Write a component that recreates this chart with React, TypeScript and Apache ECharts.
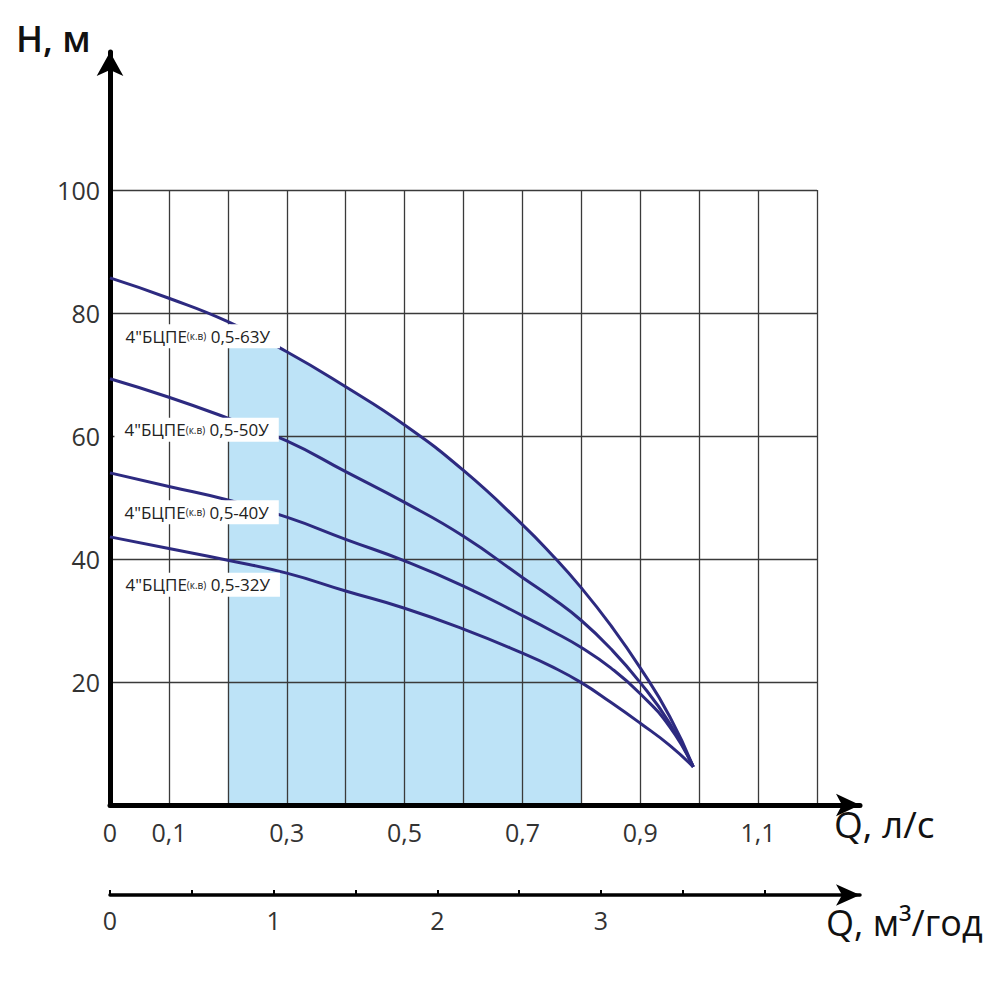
import React, { useEffect, useRef } from "react";
import * as echarts from "echarts";

const flowLs = [0, 0.1, 0.2, 0.3, 0.4, 0.5, 0.6, 0.7, 0.75, 0.8, 0.85, 0.9, 0.95, 0.99];
const head63 = [85.7, 82.4, 78.6, 73.7, 68.0, 61.8, 54.4, 45.6, 40.7, 35.3, 29.2, 22.3, 14.4, 6.2];
const head50 = [69.3, 66.3, 62.9, 59.2, 54.2, 49.2, 43.7, 37.0, 33.7, 30.0, 25.4, 19.9, 13.3, 6.2];
const head40 = [54.0, 51.8, 49.6, 46.8, 43.2, 39.7, 35.6, 30.8, 28.3, 25.6, 22.3, 18.1, 12.7, 6.2];
const head32 = [43.6, 41.7, 39.8, 37.7, 34.8, 32.0, 28.6, 24.7, 22.5, 19.9, 16.7, 13.3, 9.7, 6.2];

const workStart = 0.2;
const workEnd = 0.8;

const seriesNames = ["0,5-63У", "0,5-50У", "0,5-40У", "0,5-32У"];
const seriesHeads = [head63, head50, head40, head32];
// label anchor positions (flow l/s, head m)
const labelFlow = [0.149, 0.147, 0.147, 0.149];
const labelHead = [76.2, 61.0, 47.6, 35.8];

const yTicks = [20, 40, 60, 80, 100];
const xLabelTicks = [0, 0.1, 0.3, 0.5, 0.7, 0.9, 1.1];
const m3Ticks = [0, 0.5, 1, 1.5, 2, 2.5, 3, 3.5, 4];
const m3Labels = [0, 1, 2, 3];

const FONT = "'Open Sans', 'Noto Sans', sans-serif";
const CURVE = "#2d2a80";
const SHADE = "#bde3f7";

export default function App() {
  const ref = useRef<HTMLDivElement>(null);
  useEffect(() => {
    document.body.style.margin = "0";
    if (!ref.current) return;
    const chart = echarts.init(ref.current, null, { renderer: "svg" });
    const pair = (h: number[]) => flowLs.map((q, i) => [q, h[i]]);
    const shade = flowLs
      .map((q, i) => [q, head63[i]])
      .filter((p) => p[0] >= workStart - 1e-9 && p[0] <= workEnd + 1e-9);

    const grid0 = { left: 110, right: 183, top: 190, bottom: 195 };
    const gridArrow = { left: 110, right: 140, top: 52, bottom: 195 };
    const gridM3 = { left: 110, right: 140, bottom: 105, height: 10 };
    const m3Max = (860 - 110) / ((817 - 110) / 1.2 / 3.6);

    const option: any = {
      animation: false,
      grid: [grid0, gridArrow, gridM3],
      xAxis: [
        {
          type: "value",
          gridIndex: 0,
          min: 0,
          max: 1.2,
          interval: 0.1,
          axisLine: { show: false },
          axisTick: { show: false },
          splitLine: { show: true, lineStyle: { color: "#3a3a3a", width: 1.3 } },
          axisLabel: {
            margin: 14,
            fontSize: 25,
            fontFamily: FONT,
            color: "#333",
            formatter: (v: number) => {
              const hit = xLabelTicks.some((t) => Math.abs(t - v) < 1e-6);
              return hit ? String(Math.round(v * 10) / 10).replace(".", ",") : "";
            },
          },
        },
        {
          type: "value",
          gridIndex: 1,
          min: 0,
          max: 1,
          axisLine: {
            show: true,
            symbol: ["none", "arrow"],
            symbolSize: [17, 24],
            lineStyle: { color: "#000", width: 5 },
          },
          axisTick: { show: false },
          axisLabel: { show: false },
          splitLine: { show: false },
        },
        {
          type: "value",
          gridIndex: 2,
          position: "bottom",
          min: 0,
          max: m3Max,
          axisLine: {
            show: true,
            symbol: ["none", "arrow"],
            symbolSize: [16, 24],
            lineStyle: { color: "#000", width: 3.5 },
          },
          axisTick: {
            show: true,
            inside: true,
            length: 5,
            lineStyle: { color: "#000", width: 2 },
            customValues: m3Ticks,
          },
          axisLabel: {
            show: true,
            margin: 12,
            fontSize: 25,
            fontFamily: FONT,
            color: "#333",
            customValues: m3Labels,
            formatter: (v: number) => String(v),
          },
          splitLine: { show: false },
        },
      ],
      yAxis: [
        {
          type: "value",
          gridIndex: 0,
          min: 0,
          max: 100,
          interval: 20,
          axisLine: { show: false },
          axisTick: { show: false },
          splitLine: { show: true, lineStyle: { color: "#3a3a3a", width: 1.3 } },
          axisLabel: {
            margin: 10,
            fontSize: 25,
            fontFamily: FONT,
            color: "#333",
            formatter: (v: number) => (yTicks.includes(v) ? String(v) : ""),
          },
        },
        {
          type: "value",
          gridIndex: 1,
          min: 0,
          max: 1,
          axisLine: {
            show: true,
            symbol: ["none", "arrow"],
            symbolSize: [20, 24],
            lineStyle: { color: "#000", width: 5 },
          },
          axisTick: { show: false },
          axisLabel: { show: false },
          splitLine: { show: false },
        },
        {
          type: "value",
          gridIndex: 2,
          show: false,
        },
      ],
      series: [
        {
          type: "line",
          name: "working range",
          xAxisIndex: 0,
          yAxisIndex: 0,
          data: shade,
          smooth: 0.5,
          symbol: "none",
          z: -1,
          lineStyle: { width: 0 },
          areaStyle: { color: SHADE, opacity: 1 },
          silent: true,
        },
        ...seriesHeads.map((h, i) => ({
          type: "line",
          name: seriesNames[i],
          xAxisIndex: 0,
          yAxisIndex: 0,
          data: pair(h),
          smooth: 0.5,
          symbol: "none",
          lineStyle: { color: CURVE, width: 3 },
          z: 3,
        })),
      ],
      graphic: [
        {
          type: "text",
          left: 16,
          top: 20,
          z: 100,
          style: { text: "H, м", fontSize: 36, fontWeight: 600, fontFamily: FONT, fill: "#111" },
        },
        {
          type: "text",
          left: 834,
          top: 805,
          z: 100,
          style: { text: "Q, л/с", fontSize: 37, fontWeight: 500, fontFamily: FONT, fill: "#111" },
        },
        {
          type: "text",
          left: 826,
          top: 904,
          z: 100,
          style: { text: "Q, м³/год", fontSize: 36, fontWeight: 500, fontFamily: FONT, fill: "#111" },
        },
      ],
    };
    chart.setOption(option);

    const labels = seriesNames.map((n, i) => {
      const p = chart.convertToPixel({ gridIndex: 0 }, [labelFlow[i], labelHead[i]]) as number[];
      return {
        type: "text",
        x: p[0],
        y: p[1],
        z: 100,
        style: {
          text: `{a|4"БЦПЕ}{b|(к.в)}{a| ${n}}`,
          align: "center",
          verticalAlign: "middle",
          backgroundColor: "#fff",
          padding: [3, 10, 3, 10],
          fill: "#222",
          fontSize: 17,
          fontFamily: FONT,
          rich: {
            a: { fontSize: 17, fontFamily: FONT, fill: "#222", lineHeight: 18 },
            b: { fontSize: 10, fontFamily: FONT, fill: "#222", lineHeight: 18 },
          },
        },
      };
    });
    chart.setOption({ graphic: [...(option.graphic as any[]), ...labels] });

    return () => chart.dispose();
  }, []);
  return <div ref={ref} style={{ width: 1000, height: 1000 }} />;
}
